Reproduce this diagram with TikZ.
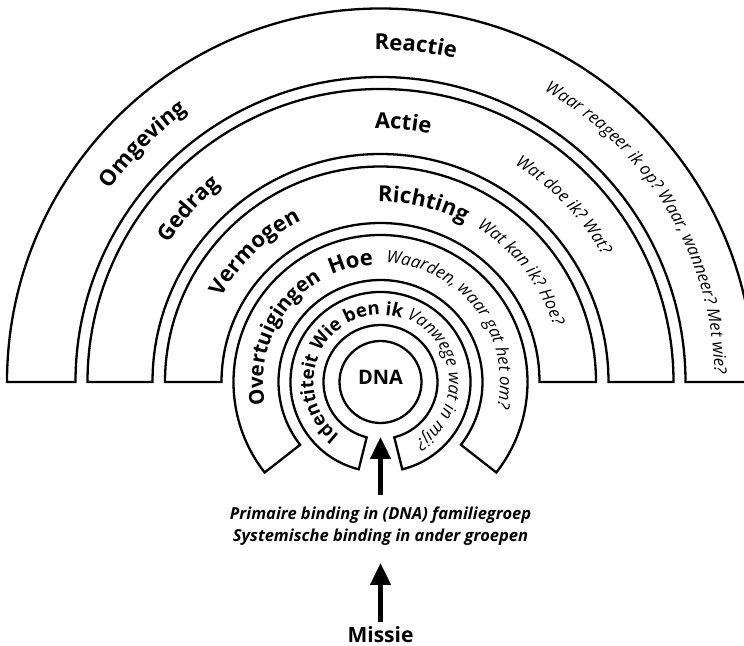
\documentclass[tikz,border=0pt]{standalone}
\usepackage{fontspec}
\setmainfont{Open Sans}
\usetikzlibrary{decorations.text,arrows.meta}
\newcommand{\lbl}{\bfseries\fontsize{22}{22}\selectfont}
\newcommand{\lblmd}{\bfseries\fontsize{20.5}{20.5}\selectfont}
\newcommand{\lblsm}{\bfseries\fontsize{18.5}{18.5}\selectfont}
\newcommand{\qst}{\itshape\fontsize{17}{17}\selectfont}
% #1 band mid radius, #2 centre angle, #3 half span, #4 inward offset of baseline, #5 text
\newcommand{\bandtext}[5]{%
  \pgfmathsetmacro{\btr}{#1-#4}%
  \pgfmathsetmacro{\bta}{#2+#3}%
  \pgfmathsetmacro{\btb}{#2-#3}%
  \path[decorate, decoration={text along path, text align=center, text={#5}}]
    (\bta:\btr) arc[start angle=\bta, end angle=\btb, radius=\btr];}
\tikzset{
  band/.style={draw=black, line width=2.3pt, line join=miter, fill=white},
  flow/.style={line width=4.7pt, -{Triangle[width=20pt,length=22pt]}},
}
\begin{document}
\begin{tikzpicture}[x=1pt,y=1pt]
\useasboundingbox (0,0) rectangle (744,645);
\begin{scope}[shift={(380.5,263)}]
  % outer half bands
  \draw[band] (180:305) -- (180:373.5) arc[start angle=180, end angle=0, radius=373.5]
     -- (0:305) arc[start angle=0, end angle=180, radius=305] -- cycle;
  \draw[band] (180:228) -- (180:293) arc[start angle=180, end angle=0, radius=293]
     -- (0:228) arc[start angle=0, end angle=180, radius=228] -- cycle;
  \draw[band] (180:159) -- (180:215.5) arc[start angle=180, end angle=0, radius=215.5]
     -- (0:159) arc[start angle=0, end angle=180, radius=159] -- cycle;
  % Overtuigingen band
  \draw[band] (218:102) -- (218:147) arc[start angle=218, end angle=-38, radius=147]
     -- (-38:102) arc[start angle=-38, end angle=218, radius=102] -- cycle;
  % Identiteit band
  \draw[band] (256:57) -- (256:90) arc[start angle=256, end angle=-76, radius=90]
     -- (-76:57) arc[start angle=-76, end angle=256, radius=57] -- cycle;
  % DNA
  \draw[band] (0,0) circle[radius=41];
  \node[font=\bfseries\fontsize{20}{20}\selectfont] (dna) at (0,5) {DNA};

  % band texts
  \bandtext{339}{135}{40}{7}{|\lbl|Omgeving}
  \bandtext{339}{84}{40}{7}{|\lbl|Reactie}
  \bandtext{339}{31}{45}{5}{|\qst|Waar reageer ik op? Waar, wanneer? Met wie?}

  \bandtext{260.5}{138}{40}{7}{|\lbl|Gedrag}
  \bandtext{260.5}{85}{40}{7}{|\lbl|Actie}
  \bandtext{260.5}{44}{40}{5}{|\qst|Wat doe ik? Wat?}

  \bandtext{187}{134}{40}{7}{|\lbl|Vermogen}
  \bandtext{187}{76.5}{40}{7}{|\lbl|Richting}
  \bandtext{187}{38}{40}{5}{|\qst|Wat kan ik? Hoe?}

  \bandtext{124.5}{155.5}{60}{7}{|\lblmd|Overtuigingen}
  \bandtext{124.5}{104}{40}{7}{|\lbl|Hoe}
  \bandtext{124.5}{37.5}{60}{5}{|\qst|Waarden, waar gat het om?}

  \bandtext{73.5}{195}{70}{6.5}{|\lblsm|Identiteit}
  \bandtext{73.5}{112.5}{60}{6.5}{|\lblsm|Wie ben ik}
  \bandtext{73.5}{4}{80}{5}{|\qst|Vanwege wat in mij?}

  % arrows and bottom texts
  \coordinate (a1s) at (0,-113);
  \coordinate (a1t) at (0,-55);
  \draw[flow] (a1s) -- (a1t);
  \node[font=\bfseries\itshape\fontsize{16.5}{22}\selectfont, align=center] (binding) at (0,-144)
    {Primaire binding in (DNA) familiegroep\\Systemische binding in ander groepen};
  \coordinate (a2s) at (0,-240);
  \coordinate (a2t) at (0,-181);
  \draw[flow] (a2s) -- (a2t);
  \node[font=\bfseries\fontsize{21}{21}\selectfont, anchor=base, inner sep=0pt] (missie) at (0,-261) {Missie};
\end{scope}
\end{tikzpicture}
\end{document}
